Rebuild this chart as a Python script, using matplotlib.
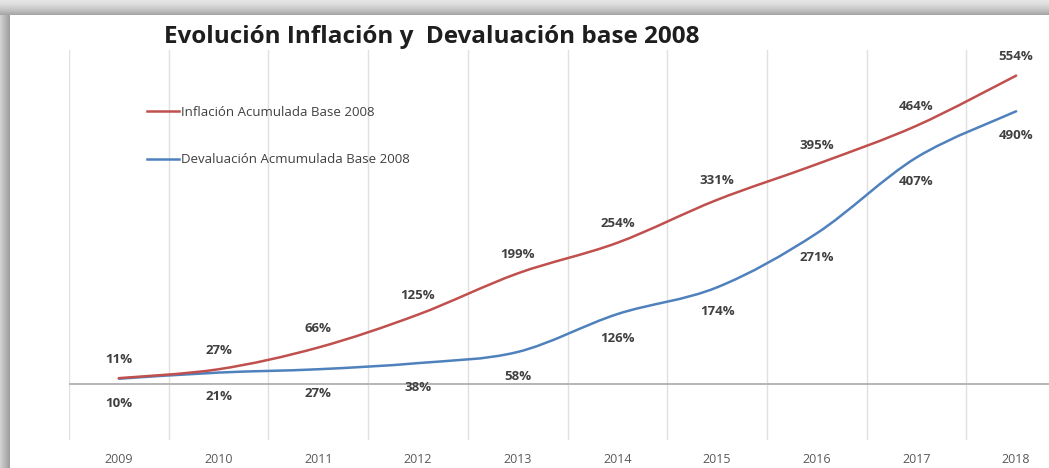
import numpy as np
import matplotlib
matplotlib.use("Agg")
import matplotlib.pyplot as plt
from matplotlib.path import Path
from matplotlib.patches import PathPatch
from matplotlib.lines import Line2D

plt.rcParams['font.family'] = ['Open Sans', 'DejaVu Sans']

anios = ['2009', '2010', '2011', '2012', '2013', '2014', '2015', '2016', '2017', '2018']
inflacion = [11, 27, 66, 125, 199, 254, 331, 395, 464, 554]
devaluacion = [10, 21, 27, 38, 58, 126, 174, 271, 407, 490]

ROJO = '#C0504D'
AZUL = '#4F81BD'

W, H = 1049, 468
fig = plt.figure(figsize=(W / 100, H / 100), dpi=100)

# fondo con sombra gris arriba y a la izquierda
fondo = np.ones((H, W))
for y in range(15):
    fondo[y, :] = np.minimum(fondo[y, :], 0.90 - 0.25 * (y / 14) ** 1.5)
for x in range(10):
    fondo[15:, x] = np.minimum(fondo[15:, x], 0.82 - 0.20 * x / 9)
bg = fig.add_axes([0, 0, 1, 1])
bg.imshow(np.dstack([fondo] * 3), aspect='auto', interpolation='nearest', vmin=0, vmax=1)
bg.axis('off')

ax = fig.add_axes([69 / W, 28 / H, 997 / W, 390 / H])
ax.set_facecolor('none')
x = np.arange(len(anios))


def curva_suave(xs, ys):
    # curva tipo Excel: bezier con tangentes de Catmull-Rom
    pts = list(zip(xs, ys))
    verts = [pts[0]]
    codes = [Path.MOVETO]
    n = len(pts)
    for i in range(n - 1):
        p0 = pts[max(i - 1, 0)]
        p1 = pts[i]
        p2 = pts[i + 1]
        p3 = pts[min(i + 2, n - 1)]
        c1 = (p1[0] + (p2[0] - p0[0]) / 6, p1[1] + (p2[1] - p0[1]) / 6)
        c2 = (p2[0] - (p3[0] - p1[0]) / 6, p2[1] - (p3[1] - p1[1]) / 6)
        verts += [c1, c2, p2]
        codes += [Path.CURVE4] * 3
    return Path(verts, codes)


for serie, color in [(devaluacion, AZUL), (inflacion, ROJO)]:
    ax.add_patch(PathPatch(curva_suave(x, serie), facecolor='none',
                           edgecolor=color, lw=1.8, capstyle='round', zorder=3))

for xi, v in zip(x, inflacion):
    ax.annotate(f'{v}%', (xi, v), xytext=(0, 13.7), textcoords='offset points',
                ha='center', va='center', fontsize=9.5, fontweight='bold', color='#404040')
for xi, v in zip(x, devaluacion):
    ax.annotate(f'{v}%', (xi, v), xytext=(0, -17.5), textcoords='offset points',
                ha='center', va='center', fontsize=9.5, fontweight='bold', color='#404040')

ax.axhline(0, color='#b5b5b5', lw=1.4, zorder=1)
for b in np.arange(-0.5, len(anios), 1):
    ax.axvline(b, color='#e0e0e0', lw=1, zorder=0)

ax.set_xlim(-0.5, len(anios) - 0.5)
ax.set_ylim(-100, 600)
ax.set_xticks(x)
ax.set_xticklabels(anios, fontsize=9, color='#595959')
ax.tick_params(axis='x', length=0, pad=9.5)
ax.set_yticks([])
for s in ax.spines.values():
    s.set_visible(False)

handles = [Line2D([], [], color=ROJO, lw=1.8), Line2D([], [], color=AZUL, lw=1.8)]
fig.legend(handles, ['Inflación Acumulada Base 2008', 'Devaluación Acmumulada Base 2008'],
           loc='upper left', bbox_to_anchor=(147 / W, 1 - 106 / H), frameon=False,
           fontsize=9.5, labelcolor='#404040', handlelength=2.4, handletextpad=0.2,
           labelspacing=2.6, borderpad=0, borderaxespad=0)

fig.text(432 / W, 1 - 37 / H, 'Evolución Inflación y  Devaluación base 2008',
         ha='center', va='center', fontsize=17.5, fontweight='bold', color='#1e1e1e')

fig.savefig('out.png', dpi=100)
